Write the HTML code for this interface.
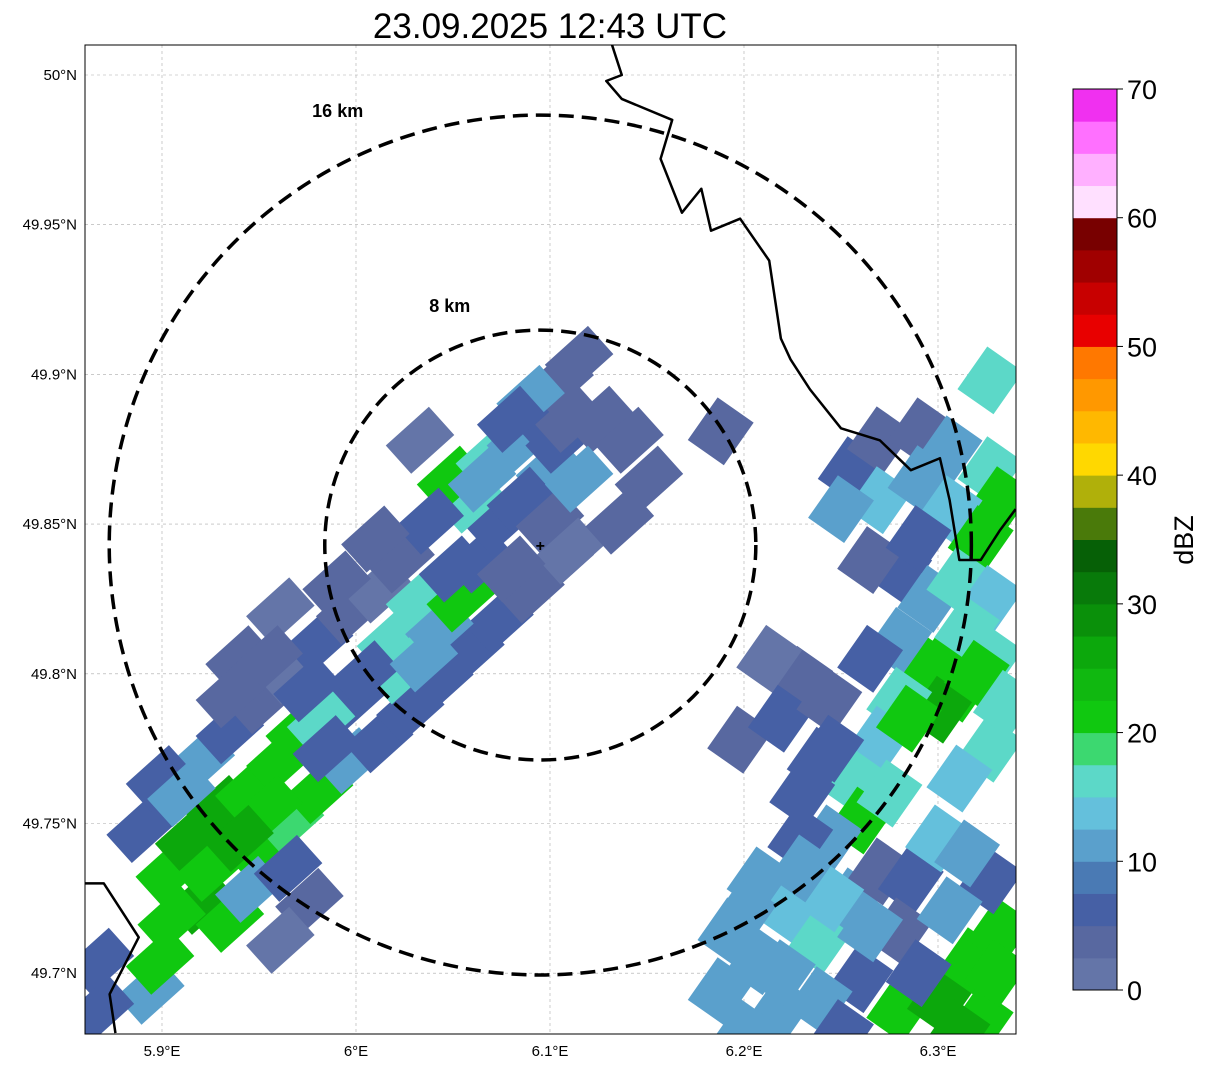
<!DOCTYPE html>
<html><head><meta charset="utf-8"><style>
body{margin:0;background:#fff;font-family:"Liberation Sans",sans-serif}
svg{display:block}
</style></head><body>
<svg id="chart" width="1207" height="1069" viewBox="0 0 1207 1069" xmlns="http://www.w3.org/2000/svg">
<defs><clipPath id="pc"><rect x="85" y="45" width="931" height="989"/></clipPath></defs>
<text x="550" y="38" font-size="35" text-anchor="middle" fill="#000">23.09.2025 12:43 UTC</text>
<g id="plot" clip-path="url(#pc)"></g>
<rect x="85" y="45" width="931" height="989" fill="none" stroke="#000" stroke-width="1"/>
<g id="axes"></g>
<g id="cbar"></g>
</svg>
<script>
const lonTicks=[5.9,6.0,6.1,6.2,6.3];
const lonLabels=["5.9°E","6°E","6.1°E","6.2°E","6.3°E"];
const latTicks=[50,49.95,49.9,49.85,49.8,49.75,49.7];
const latLabels=["50°N","49.95°N","49.9°N","49.85°N","49.8°N","49.75°N","49.7°N"];
const cbarTicks=[0,10,20,30,40,50,60,70];
const cbarColors=["#6475a8","#5868a0","#4660a5","#4a7ab4","#5aa0cc","#64c0dc","#5cd8c8","#3cd870","#10c810","#10b810","#0ca80c","#0a900a","#087a0a","#066006","#4a7a0a","#b0b00a","#ffd800","#ffb800","#ff9800","#ff7800","#e80000","#c80000","#a00000","#780000","#ffe0ff","#ffb0ff","#ff70ff","#f030f0"];
const radarLon=6.095, radarLat=49.843;
const ringKm=[8,16];
const ringLatDeg=[0.0718,0.1436];
const ringLonDeg=[0.1111,0.2222];
// echo cells: lon, lat, dBZ
const cellLon=[5.889,5.904,5.920,5.935,5.914,5.930,5.945,5.961,5.971,5.951,5.966,5.981,5.997,6.012,6.028,6.043,6.059,6.074,6.090,6.105,5.920,5.935,5.951,5.966,5.981,5.961,5.997,6.012,6.023,6.018,6.033,6.043,6.054,6.023,5.997,5.982,6.064,6.074,6.059,6.049,6.069,6.085,6.095,6.105,6.115,6.090,6.100,6.105,6.085,6.100,6.110,6.038,6.126,6.141,6.151,6.136,6.115,5.976,5.961,5.899,5.940,6.033,6.188,
6.255,6.270,6.291,6.306,6.327,6.332,6.270,6.291,6.306,6.322,6.327,
6.280,6.296,6.311,6.327,6.311,6.296,6.311,6.301,6.327,6.280,6.265,6.280,6.270,6.255,6.260,6.244,6.229,6.213,6.198,6.219,6.244,6.239,6.327,6.265,6.311,
6.208,6.224,6.193,6.208,6.188,6.239,6.255,6.270,6.286,6.280,6.260,6.239,6.280,6.301,6.317,6.332,6.327,6.306,6.219,6.322,6.229,
5.868,5.894,5.899,5.868,
5.910,5.925,5.955,5.940,5.985,6.005,6.035,6.050,6.080,6.065,6.080,6.110,5.955,5.975,5.935,5.990,6.010,5.905,5.945,5.965,
6.290,6.315,6.285,6.245,6.230,6.275,6.300,6.320,6.335,6.250,
6.200,6.220,6.245,6.265,6.290,6.310,6.330,6.250,6.200,6.230,6.315];
const cellLat=[49.748,49.734,49.724,49.718,49.745,49.755,49.761,49.771,49.781,49.741,49.751,49.761,49.771,49.778,49.788,49.798,49.808,49.818,49.828,49.838,49.771,49.781,49.791,49.801,49.811,49.821,49.821,49.828,49.838,49.811,49.825,49.815,49.825,49.801,49.791,49.784,49.838,49.851,49.858,49.865,49.872,49.878,49.888,49.898,49.905,49.892,49.868,49.878,49.858,49.851,49.841,49.851,49.885,49.878,49.865,49.851,49.865,49.724,49.711,49.765,49.805,49.878,49.881,
49.868,49.878,49.881,49.875,49.868,49.858,49.858,49.865,49.855,49.845,49.898,
49.835,49.825,49.831,49.825,49.811,49.801,49.795,49.788,49.805,49.811,49.805,49.791,49.778,49.765,49.751,49.745,49.798,49.805,49.778,49.785,49.791,49.771,49.775,49.838,49.765,
49.731,49.721,49.714,49.704,49.694,49.711,49.724,49.734,49.731,49.714,49.698,49.691,49.688,49.691,49.704,49.714,49.731,49.721,49.688,49.684,49.745,
49.704,49.694,49.704,49.688,
49.760,49.735,49.755,49.745,49.775,49.800,49.805,49.835,49.835,49.865,49.885,49.885,49.805,49.795,49.793,49.830,49.845,49.718,49.728,49.735,
49.845,49.815,49.785,49.775,49.760,49.760,49.745,49.800,49.790,49.855,
49.720,49.700,49.725,49.715,49.700,49.680,49.700,49.680,49.680,49.735,49.740];
const cellDbz=[7,22,25,20,25,25,22,22,20,22,18,20,10,5,7,5,7,5,3,3,10,5,3,2,5,2,3,2,3,15,17,10,20,17,5,15,5,5,15,20,17,10,5,3,3,10,10,5,5,3,2,5,3,3,3,3,10,3,2,5,3,2,3,
7,3,3,10,15,22,13,10,13,20,17,
5,10,17,13,20,22,22,25,15,10,5,15,13,17,20,10,3,2,3,5,3,7,17,3,13,
10,13,10,12,10,17,12,3,5,3,5,10,22,25,22,20,5,12,10,22,5,
7,10,20,5,
10,22,22,25,7,5,12,5,3,12,5,3,3,5,3,3,3,20,10,7,
5,17,20,7,5,15,13,22,17,10,
10,12,13,10,7,25,22,5,10,10,12];
const borderLon=[6.132,6.137,6.129,6.137,6.163,6.157,6.168,6.178,6.183,6.198,6.213,6.219,6.224,6.234,6.250,6.270,6.286,6.301,6.306,6.311,6.322,6.332,6.340];
const borderLat=[50.010,50.000,49.998,49.992,49.985,49.972,49.954,49.962,49.948,49.952,49.938,49.912,49.905,49.895,49.882,49.878,49.868,49.872,49.858,49.838,49.838,49.848,49.855];
const border2Lon=[5.860,5.870,5.888,5.873,5.876];
const border2Lat=[49.730,49.730,49.712,49.693,49.680];

const NS="http://www.w3.org/2000/svg";
const X=lon=>162+(lon-5.9)*1940;
const Y=lat=>75+(50-lat)*2994;
const dbzColor=d=>cbarColors[Math.max(0,Math.min(27,Math.floor(d/2.5)))];
function mk(tag,attrs,parent){const e=document.createElementNS(NS,tag);for(const k in attrs)e.setAttribute(k,attrs[k]);parent.appendChild(e);return e;}
const plot=document.getElementById('plot'),axes=document.getElementById('axes'),cbar=document.getElementById('cbar');

lonTicks.forEach((t,i)=>{
 const g=mk('line',{x1:X(t),x2:X(t),y1:45,y2:1034,stroke:'#aaa','stroke-width':0.6,'stroke-dasharray':'3,3'},plot);
 
 
 const tx=mk('text',{x:X(t),y:1056,'font-size':15,'text-anchor':'middle'},axes);
 tx.textContent=lonLabels[i];
 
 
});
latTicks.forEach((t,i)=>{
 const g=mk('line',{x1:85,x2:1016,y1:Y(t),y2:Y(t),stroke:'#aaa','stroke-width':0.6,'stroke-dasharray':'3,3'},plot);
 
 
 const tx=mk('text',{x:77,y:Y(t)+5,'font-size':15,'text-anchor':'end'},axes);
 tx.textContent=latLabels[i];
 
 
});
cellLon.forEach((lon,i)=>{
 const cx=X(lon),cy=Y(cellLat[i]);
 const east=lon>6.18;
 const w=east?52:58,h=east?44:38,rot=east?-55:-42;
 const r=mk('rect',{x:cx-w/2,y:cy-h/2,width:w,height:h,fill:dbzColor(cellDbz[i]),transform:`rotate(${rot} ${cx} ${cy})`},plot);
 
 
});
function poly(lons,lats,name){
 const p=mk('polyline',{points:lons.map((l,i)=>X(l)+','+Y(lats[i])).join(' '),fill:'none',stroke:'#000','stroke-width':2.5,'stroke-linejoin':'round'},plot);
 
 
}
poly(borderLon,borderLat,'country-border-east');
poly(border2Lon,border2Lat,'country-border-southwest');
const labelFactor=[0.42,0.47];
ringKm.forEach((km,i)=>{
 const rx=ringLonDeg[i]*1940, ry=ringLatDeg[i]*2994;
 const e=mk('ellipse',{cx:X(radarLon),cy:Y(radarLat),rx:rx,ry:ry,fill:'none',stroke:'#000','stroke-width':3.5,'stroke-dasharray':'15,8'},plot);
 
 
 const t=mk('text',{x:X(radarLon)-rx*labelFactor[i],y:Y(radarLat)-ry+(i?2:-18),'font-size':18,'font-weight':'bold','text-anchor':'middle'},plot);
 t.textContent=km+' km';
 
 
});
const pl=mk('text',{x:X(radarLon),y:Y(radarLat)+6,'font-size':16,'font-weight':'bold','text-anchor':'middle'},plot);
pl.textContent='+';


const cb0=990,cbH=901,bx=1073,bw=44;
cbarColors.forEach((c,i)=>{
 const h=cbH/cbarColors.length;
 const r=mk('rect',{x:bx,y:cb0-(i+1)*h,width:bw,height:h+0.5,fill:c},cbar);
 
 
});
mk('rect',{x:bx,y:cb0-cbH,width:bw,height:cbH,fill:'none',stroke:'#000','stroke-width':1},cbar);
cbarTicks.forEach(t=>{
 const y=cb0-t/70*cbH;
 mk('line',{x1:bx+bw,x2:bx+bw+6,y1:y,y2:y,stroke:'#000'},cbar);
 const tx=mk('text',{x:1127,y:y+10,'font-size':27},cbar);
 tx.textContent=t;
 
 
});
const lab=mk('text',{x:1193,y:540,'font-size':27,'text-anchor':'middle',transform:'rotate(-90 1193 540)'},cbar);
lab.textContent='dBZ';


</script>
</body></html>
